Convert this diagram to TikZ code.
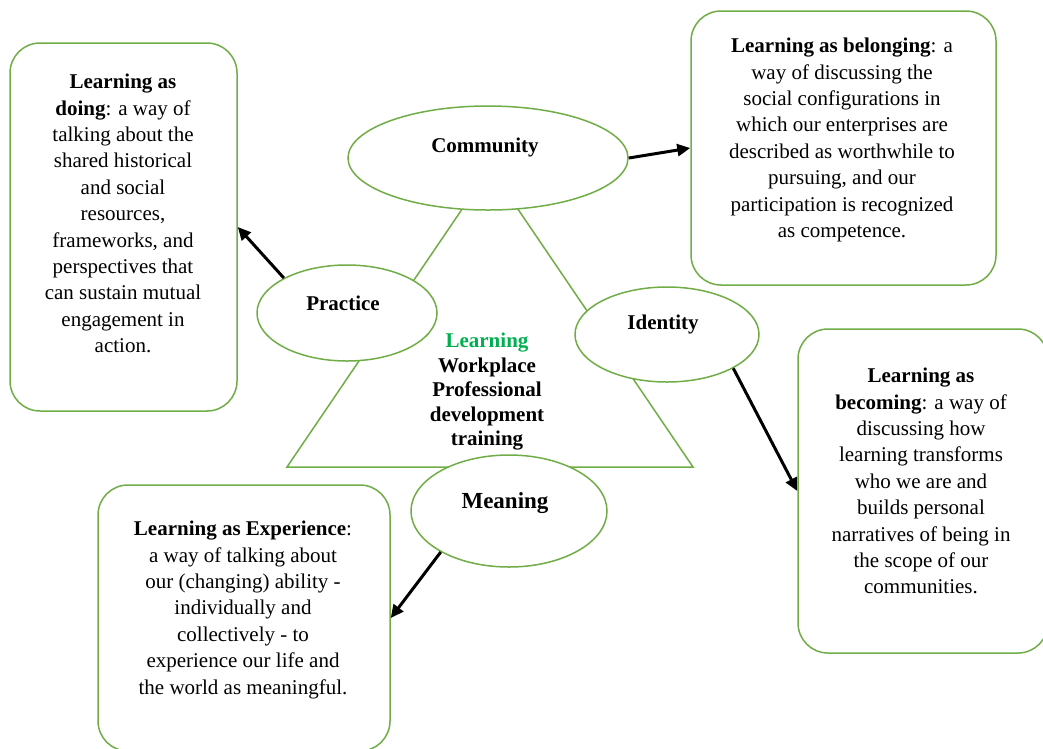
\documentclass[tikz,border=0pt]{standalone}
\usepackage{fontspec}
\setmainfont{Liberation Serif}
\usetikzlibrary{shapes.geometric,arrows.meta}
\definecolor{gborder}{RGB}{112,173,71}
\definecolor{ltext}{RGB}{0,176,80}
\begin{document}
\begin{tikzpicture}[x=1pt,y=-1pt,
  box/.style={draw=gborder, line width=1.5pt, rounded corners=30pt, fill=white, inner sep=0pt},
  oval/.style={ellipse, draw=gborder, line width=1.5pt, fill=white, inner sep=0pt},
  body/.style={align=center, inner sep=0pt, anchor=north, font=\fontsize{21}{26.4}\selectfont},
  lbl/.style={font=\fontsize{21}{24}\selectfont\bfseries, inner sep=0pt},
  arr/.style={line width=3pt, -{Triangle[length=13pt,width=12pt]}},
]
\useasboundingbox (0,0) rectangle (1043,748);
\fill[white] (0,0) rectangle (1043,748);

% boxes
\node[box, minimum width=227pt, minimum height=368pt] (doing) at (123.5,227) {};
\node[box, minimum width=305pt, minimum height=274pt] (belong) at (843.5,148) {};
\node[box, minimum width=250pt, minimum height=324pt] (becom) at (923,491) {};
\node[box, minimum width=292pt, minimum height=266pt] (exper) at (244,618) {};

% triangle
\coordinate (apex) at (490,168);
\coordinate (bl) at (287,467);
\coordinate (br) at (693,467);
\draw[gborder, line width=1.5pt] (bl) -- (apex) -- (br) -- cycle;

% ellipses
\node[oval, minimum width=280pt, minimum height=104pt,
  label={[lbl, xshift=-3pt, yshift=11pt]center:Community}] (comm) at (488,158) {};
\node[oval, minimum width=180pt, minimum height=96pt,
  label={[lbl, xshift=-4pt, yshift=10pt]center:Practice}] (prac) at (347,313) {};
\node[oval, minimum width=184pt, minimum height=95pt,
  label={[lbl, xshift=-4pt, yshift=10pt]center:Identity}] (ident) at (667,334.5) {};
\node[oval, minimum width=196pt, minimum height=112pt,
  label={[lbl, font=\fontsize{23}{26}\selectfont\bfseries, xshift=-4pt, yshift=8pt]center:Meaning}] (mean) at (509,511) {};

% centre text
\node[body, font=\fontsize{21}{24.5}\selectfont\bfseries] (centre) at (487,333)
  {{\color{ltext}Learning}\\Workplace\\Professional\\development\\training};

% box texts
\node[body] (doingtxt) at (123,74)
  {\textbf{Learning as}\\\textbf{doing}: a way of\\talking about the\\shared historical\\and social\\resources,\\frameworks, and\\perspectives that\\can sustain mutual\\engagement in\\action.};
\node[body] (belongtxt) at (842,38)
  {\textbf{Learning as belonging}: a\\way of discussing the\\social configurations in\\which our enterprises are\\described as worthwhile to\\pursuing, and our\\participation is recognized\\as competence.};
\node[body] (becomtxt) at (921,368)
  {\textbf{Learning as}\\\textbf{becoming}: a way of\\discussing how\\learning transforms\\who we are and\\builds personal\\narratives of being in\\the scope of our\\communities.};
\node[body] (expertxt) at (243,521)
  {\textbf{Learning as Experience}:\\a way of talking about\\our (changing) ability -\\individually and\\collectively - to\\experience our life and\\the world as meaningful.};

% arrows
\draw[arr] (prac.151) -- (doing.east);
\draw[arr] (comm.east) -- (belong.west);
\draw[arr] (ident.-27) -- (becom.west);
\draw[arr] (mean.211) -- (exper.east);
\end{tikzpicture}
\end{document}
